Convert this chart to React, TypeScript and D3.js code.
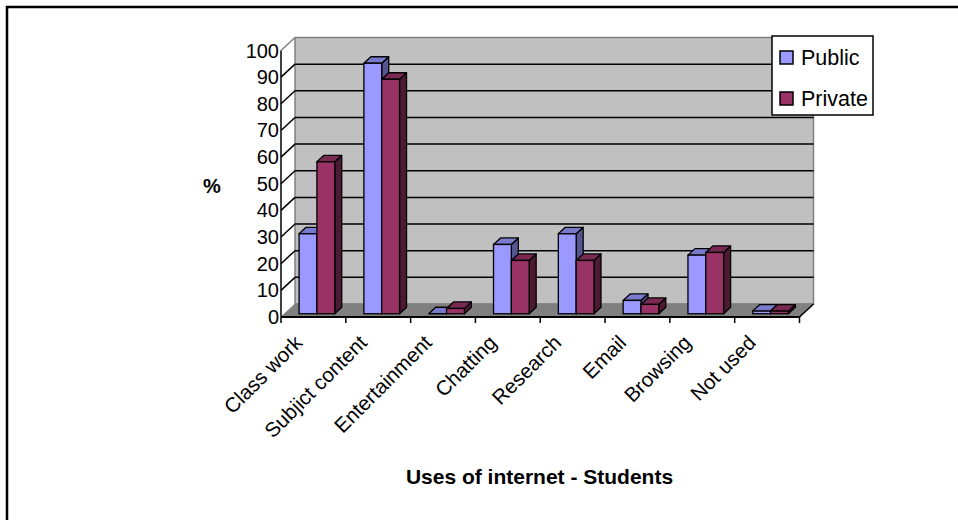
import React from "react";
import * as d3 from "d3";

const categories = [
  "Class work",
  "Subjict content",
  "Entertainment",
  "Chatting",
  "Research",
  "Email",
  "Browsing",
  "Not used",
];
const seriesNames = ["Public", "Private"];
const publicValues = [30, 94, 0, 26, 30, 5, 22, 1];
const privateValues = [57, 88, 2, 20, 20, 3.5, 23, 1];
const yTicks = [0, 10, 20, 30, 40, 50, 60, 70, 80, 90, 100];
const yLabel = "%";
const xTitle = "Uses of internet - Students";

const W = 958;
const H = 520;
const FONT = "'Liberation Sans', Arial, sans-serif";

// plot frame: front-left corner of the floor and the depth offset to the back wall
const X0 = 281;
const X1 = 799.5;
const Y0 = 317;
const DEPTH = { dx: 14, dy: -13 };
const PLOT_H = 266.5;

const seriesColors = [
  { front: "#9999FF", top: "#7A7ACC", side: "#55558F" },
  { front: "#993366", top: "#7A2952", side: "#4D1A33" },
];

export default function App() {
  const x = d3.scaleBand<string>().domain(categories).range([X0, X1]).paddingInner(0).paddingOuter(0);
  const band = x.bandwidth();
  const groupW = band * 0.55;
  const inner = d3.scaleBand<string>().domain(seriesNames).range([0, groupW]);
  const barW = inner.bandwidth();
  const h = d3.scaleLinear().domain([0, 100]).range([0, PLOT_H]);

  const yFront = (v: number) => Y0 - h(v);
  const yBack = (v: number) => Y0 + DEPTH.dy - h(v);
  const xBackL = X0 + DEPTH.dx;
  const xBackR = X1 + DEPTH.dx;

  const values = [publicValues, privateValues];

  // bars sit between 25% and 75% of the depth
  const d0 = 0.25;
  const d1 = 0.75;

  const bars: JSX.Element[] = [];
  categories.forEach((c, i) => {
    seriesNames.forEach((s, si) => {
      const v = values[si][i];
      const col = seriesColors[si];
      const xl = (x(c) as number) + (band - groupW) / 2 + (inner(s) as number) + DEPTH.dx * d0;
      const xr = xl + barW;
      const yb = Y0 + DEPTH.dy * d0;
      const yt = yb - h(v);
      const ddx = DEPTH.dx * (d1 - d0);
      const ddy = DEPTH.dy * (d1 - d0);
      const side = `M${xr},${yb} L${xr + ddx},${yb + ddy} L${xr + ddx},${yt + ddy} L${xr},${yt} Z`;
      const top = `M${xl},${yt} L${xr},${yt} L${xr + ddx},${yt + ddy} L${xl + ddx},${yt + ddy} Z`;
      bars.push(
        <g key={`${c}-${s}`}>
          <path d={side} fill={col.side} stroke="#000" strokeWidth={1.3} strokeLinejoin="round" />
          <path d={top} fill={col.top} stroke="#000" strokeWidth={1.3} strokeLinejoin="round" />
          {v > 0 && (
            <rect x={xl} y={yt} width={barW} height={yb - yt} fill={col.front} stroke="#000" strokeWidth={1.3} />
          )}
        </g>
      );
    });
  });

  const tickXs = [...categories.map((c) => x(c) as number), X1];

  return (
    <svg
      width={W}
      height={H}
      style={{ position: "absolute", left: 0, top: 0, background: "#fff" }}
      fontFamily={FONT}
    >
      {/* outer frame */}
      <path d={`M7,${H + 5} L7,7 L${W + 5},7`} fill="none" stroke="#000" strokeWidth={2.5} />

      {/* back wall */}
      <rect x={xBackL} y={yBack(100)} width={xBackR - xBackL} height={yBack(0) - yBack(100)} fill="#C0C0C0" stroke="#808080" strokeWidth={1.5} />

      {/* gridlines: back wall and side wall */}
      {yTicks.filter((v) => v > 0 && v < 100).map((v) => (
        <g key={`g${v}`}>
          <line x1={xBackL} x2={xBackR} y1={yBack(v)} y2={yBack(v)} stroke="#000" strokeWidth={1.5} />
          <line x1={X0} x2={xBackL} y1={yFront(v)} y2={yBack(v)} stroke="#000" strokeWidth={1.5} />
        </g>
      ))}
      <line x1={X0} x2={xBackL} y1={yFront(100)} y2={yBack(100)} stroke="#808080" strokeWidth={1.5} />

      {/* floor */}
      <path
        d={`M${X0},${Y0} L${X1},${Y0} L${xBackR},${yBack(0)} L${xBackL},${yBack(0)} Z`}
        fill="#808080"
        stroke="#808080"
        strokeWidth={1}
      />
      <line x1={X1} y1={Y0} x2={xBackR} y2={yBack(0)} stroke="#000" strokeWidth={1.5} />

      {/* vertical axis */}
      <line x1={X0} x2={X0} y1={Y0} y2={yFront(100)} stroke="#000" strokeWidth={1.5} />
      {yTicks.map((v) => (
        <text key={`yl${v}`} x={279} y={yFront(v)} dy="0.35em" textAnchor="end" fontSize={20} fill="#000">
          {v}
        </text>
      ))}
      <text x={212} y={193} textAnchor="middle" fontSize={20} fontWeight="bold" fill="#000">
        {yLabel}
      </text>

      {/* bars */}
      {bars}

      {/* horizontal axis */}
      <line x1={X0} x2={X1} y1={Y0} y2={Y0} stroke="#000" strokeWidth={2} />
      {tickXs.map((tx, i) => (
        <line key={`xt${i}`} x1={tx} x2={tx} y1={Y0} y2={Y0 + 6} stroke="#000" strokeWidth={1.5} />
      ))}
      {categories.map((c) => {
        const cx = (x(c) as number) + band / 2;
        const ax = cx - 10;
        const ay = 344;
        return (
          <text
            key={`xl${c}`}
            x={ax}
            y={ay}
            textAnchor="end"
            fontSize={20.5}
            fill="#000"
            transform={`rotate(-45 ${ax} ${ay})`}
          >
            {c}
          </text>
        );
      })}

      {/* axis title */}
      <text x={539.5} y={484} textAnchor="middle" fontSize={21} fontWeight="bold" fill="#000">
        {xTitle}
      </text>

      {/* legend */}
      <rect x={772} y={36} width={101} height={79} fill="#fff" stroke="#000" strokeWidth={1.5} />
      {seriesNames.map((s, i) => (
        <g key={`lg${s}`}>
          <rect x={780} y={51 + i * 41} width={13} height={13} fill={seriesColors[i].front} stroke="#000" strokeWidth={1.5} />
          <text x={801} y={65 + i * 41} fontSize={21.5} fill="#000">
            {s}
          </text>
        </g>
      ))}
    </svg>
  );
}
